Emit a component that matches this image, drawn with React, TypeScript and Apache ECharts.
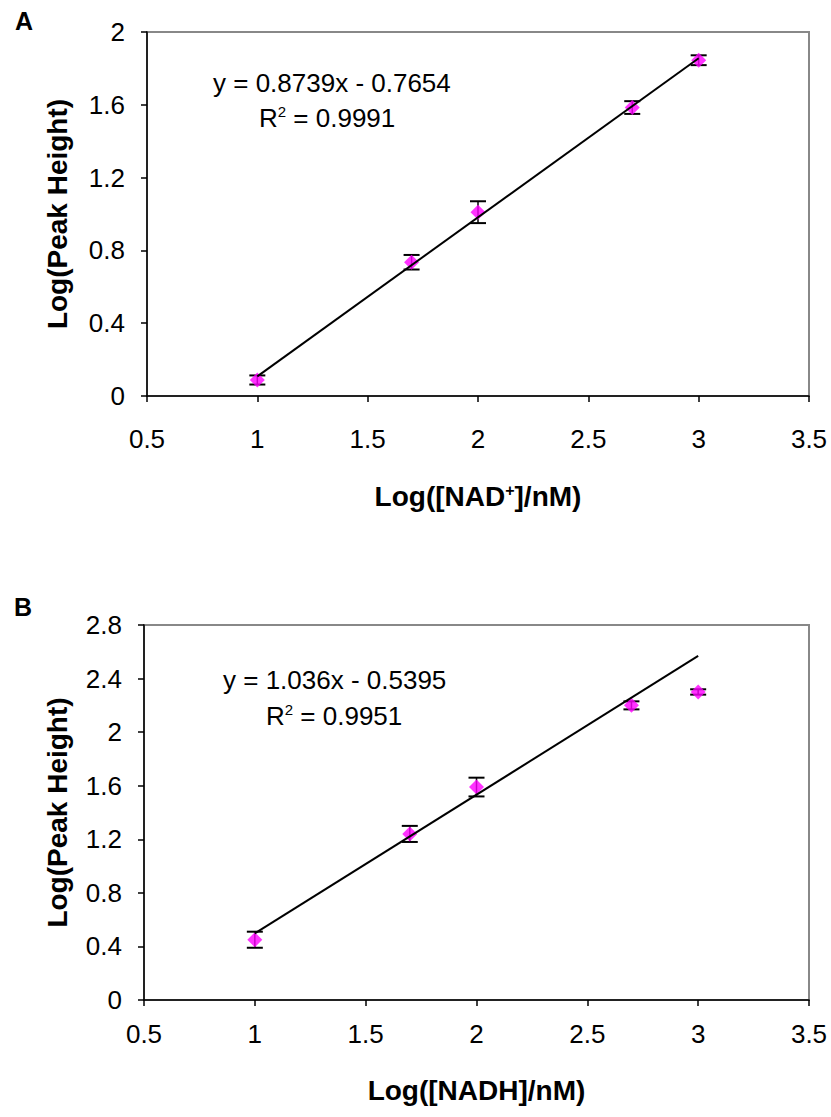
import React, { useEffect, useRef } from 'react';
import * as echarts from 'echarts';

// log10 of concentration (nM)
const xValues = [1, 1.699, 2, 2.699, 3];

// Panel A: NAD+
const nadPlusY = [0.088, 0.735, 1.01, 1.585, 1.845];
const nadPlusErr = [0.025, 0.04, 0.06, 0.035, 0.027];
const trendA = [[1, 0.108], [3, 1.856]];

// Panel B: NADH
const nadhY = [0.45, 1.24, 1.59, 2.2, 2.3];
const nadhErr = [0.06, 0.06, 0.07, 0.03, 0.02];
const trendB = [[1, 0.497], [3, 2.569]];

const eqA = ['y = 0.8739x - 0.7654', '0.9991'];
const eqB = ['y = 1.036x - 0.5395', '0.9951'];

const FONT = '"Liberation Sans", Arial, sans-serif';
const TICK = 26;
const TITLE = 28;
const EQ = 26;

export default function App() {
  const ref = useRef<HTMLDivElement>(null);
  useEffect(() => {
    if (!ref.current) return;
    const chart = echarts.init(ref.current, undefined, { renderer: 'svg' });

    const pts = (ys: number[]) => xValues.map((x, i) => [x, ys[i]]);
    const errs = (ys: number[], es: number[]) => xValues.map((x, i) => [x, ys[i], es[i]]);

    const errRender = (params: any, api: any) => {
      const x = api.value(0);
      const y = api.value(1);
      const e = api.value(2);
      const top = api.coord([x, y + e]);
      const bot = api.coord([x, y - e]);
      const h = 8;
      const st = { stroke: '#000', lineWidth: 2 };
      return {
        type: 'group',
        children: [
          { type: 'line', shape: { x1: top[0], y1: top[1], x2: bot[0], y2: bot[1] }, style: { stroke: '#000', lineWidth: 1.5 } },
          { type: 'line', shape: { x1: top[0] - h, y1: top[1], x2: top[0] + h, y2: top[1] }, style: st },
          { type: 'line', shape: { x1: bot[0] - h, y1: bot[1], x2: bot[0] + h, y2: bot[1] }, style: st },
        ],
      };
    };

    const xAxisBase = (name: any, gridIndex: number, nameGap: number, margin: number) => ({
      type: 'value',
      gridIndex,
      min: 0.5,
      max: 3.5,
      interval: 0.5,
      name,
      nameLocation: 'middle',
      nameGap,
      nameTextStyle: {
        fontFamily: FONT,
        fontWeight: 'bold',
        fontSize: TITLE,
        color: '#000',
        rich: {
          a: { fontFamily: FONT, fontWeight: 'bold', fontSize: TITLE, color: '#000' },
          s: { fontFamily: FONT, fontWeight: 'bold', fontSize: 16, color: '#000', verticalAlign: 'bottom', padding: [0, 0, 13, 0] },
        },
      },
      axisLine: { show: true, onZero: false, lineStyle: { color: '#000', width: 1.5 } },
      axisTick: { show: true, length: 6, lineStyle: { color: '#000', width: 1.5 } },
      axisLabel: { fontFamily: FONT, fontSize: TICK, color: '#000', margin },
      splitLine: { show: false },
    });

    const yAxisBase = (gridIndex: number, max: number, nameGap: number) => ({
      type: 'value',
      gridIndex,
      min: 0,
      max,
      interval: 0.4,
      name: 'Log(Peak Height)',
      nameLocation: 'middle',
      nameRotate: 90,
      nameGap,
      nameTextStyle: { fontFamily: FONT, fontWeight: 'bold', fontSize: TITLE, color: '#000' },
      axisLine: { show: true, onZero: false, lineStyle: { color: '#000', width: 1.5 } },
      axisTick: { show: true, length: 6, lineStyle: { color: '#000', width: 1.5 } },
      axisLabel: { fontFamily: FONT, fontSize: TICK, color: '#000', margin: 22 },
      splitLine: { show: false },
    });

    const eqText = (lines: string[], x1: number, y1: number, x2: number, y2: number) => [
      {
        type: 'text',
        left: x1,
        top: y1,
        style: { text: lines[0], fontFamily: FONT, fontSize: EQ, fill: '#000' },
      },
      {
        type: 'text',
        left: x2,
        top: y2,
        style: {
          text: '{r|R}{s|2}{r| = ' + lines[1] + '}',
          rich: {
            r: { fontFamily: FONT, fontSize: EQ, fill: '#000' },
            s: { fontFamily: FONT, fontSize: 15, fill: '#000', verticalAlign: 'bottom', padding: [0, 0, 12, 0] },
          },
        },
      },
    ];

    chart.setOption({
      animation: false,
      backgroundColor: '#fff',
      grid: [
        { left: 147, top: 32, width: 662, height: 364, show: true, borderColor: '#888', borderWidth: 2, backgroundColor: 'transparent' },
        { left: 144, top: 625, width: 665, height: 375, show: true, borderColor: '#888', borderWidth: 2, backgroundColor: 'transparent' },
      ],
      xAxis: [
        xAxisBase('{a|Log([NAD}{s|+}{a|]/nM)}', 0, 86, 30),
        xAxisBase('{a|Log([NADH]/nM)}', 1, 76, 21),
      ],
      yAxis: [yAxisBase(0, 2, 76), yAxisBase(1, 2.8, 73)],
      graphic: [
        { type: 'text', left: 15, top: 8, style: { text: 'A', fontFamily: FONT, fontWeight: 'bold', fontSize: 25, fill: '#000' } },
        { type: 'text', left: 14, top: 594, style: { text: 'B', fontFamily: FONT, fontWeight: 'bold', fontSize: 25, fill: '#000' } },
        ...eqText(eqA, 213, 70, 259, 104),
        ...eqText(eqB, 223, 667, 266, 702),
      ],
      series: [
        { type: 'custom', xAxisIndex: 0, yAxisIndex: 0, data: errs(nadPlusY, nadPlusErr), renderItem: errRender, encode: { x: 0, y: 1 }, z: 2 },
        { type: 'scatter', xAxisIndex: 0, yAxisIndex: 0, data: pts(nadPlusY), symbol: 'diamond', symbolSize: 15, itemStyle: { color: '#FF00FF' }, z: 3 },
        { type: 'line', xAxisIndex: 0, yAxisIndex: 0, data: trendA, showSymbol: false, symbol: 'none', lineStyle: { color: '#000', width: 2 }, z: 4 },
        { type: 'custom', xAxisIndex: 1, yAxisIndex: 1, data: errs(nadhY, nadhErr), renderItem: errRender, encode: { x: 0, y: 1 }, z: 2 },
        { type: 'scatter', xAxisIndex: 1, yAxisIndex: 1, data: pts(nadhY), symbol: 'diamond', symbolSize: 15, itemStyle: { color: '#FF00FF' }, z: 3 },
        { type: 'line', xAxisIndex: 1, yAxisIndex: 1, data: trendB, showSymbol: false, symbol: 'none', lineStyle: { color: '#000', width: 2 }, z: 4 },
      ],
    });
    return () => chart.dispose();
  }, []);
  return <div ref={ref} style={{ position: 'absolute', left: 0, top: 0, width: 831, height: 1117 }} />;
}
